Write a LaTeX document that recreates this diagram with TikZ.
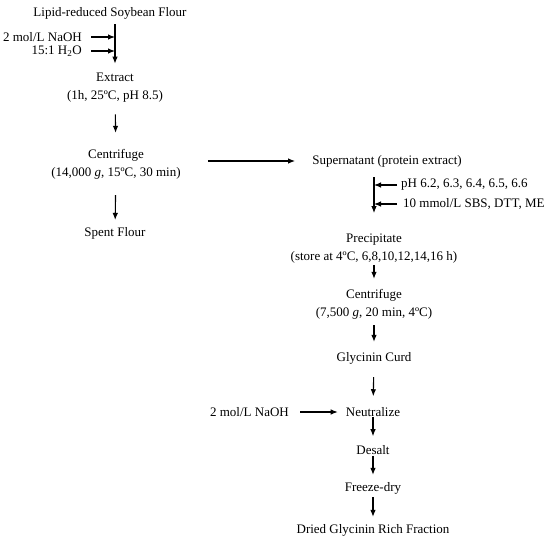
\documentclass[tikz,border=0pt]{standalone}
\usepackage{fontspec}
\setmainfont{Liberation Serif}
\usetikzlibrary{arrows.meta}
\tikzstyle{txt} = [inner sep=0pt, align=center]
\tikzstyle{arrow} = [->,>={Latex[length=7pt,width=5.5pt]}, line width=1.1pt]

\begin{document}
\begin{tikzpicture}[x=1pt, y=-1pt, font=\fontsize{13}{18}\selectfont]
    \useasboundingbox (0,0) rectangle (550,542);
    % left column
    \node (flour)   [txt] at (110,13)  {Lipid-reduced Soybean Flour};
    \node (naoh)    [txt, anchor=east] at (82,37) {2 mol/L NaOH};
    \node (water)   [txt, anchor=east] at (82,51) {15:1 H\textsubscript{2}O};
    \node (extract) [txt] at (115,87.5)
      {Extract \\ (1h, 25ºC, pH 8.5)};
    \node (spin)    [txt] at (116,164)
      {Centrifuge \\ (14,000 \textit{g}, 15ºC, 30 min)};
    \node (spent)   [txt] at (115,233) {Spent Flour};
    % right column
    \node (super)   [txt] at (387,161) {Supernatant (protein extract)};
    \node (ph)      [txt, anchor=west] at (401,185) {pH 6.2, 6.3, 6.4, 6.5, 6.6};
    \node (sbs)     [txt, anchor=west] at (403,204) {10 mmol/L SBS, DTT, ME};
    \node (precip)  [txt] at (374,249)
      {Precipitate \\ (store at 4ºC, 6,8,10,12,14,16 h)};
    \node (spintwo) [txt] at (374,304)
      {Centrifuge \\ (7,500 \textit{g}, 20 min, 4ºC)};
    \node (curd)    [txt] at (374,358) {Glycinin Curd};
    \node (neutral) [txt] at (373,412) {Neutralize};
    \node (naohtwo) [txt, anchor=east] at (289,412) {2 mol/L NaOH};
    \node (desalt)  [txt] at (373,450) {Desalt};
    \node (freeze)  [txt] at (373,488) {Freeze-dry};
    \node (dried)   [txt] at (373,530) {Dried Glycinin Rich Fraction};

    \draw [arrow, shorten <=5pt, shorten >=9pt]
      (flour.south -| extract.north) -- (extract.north);
    \draw [arrow, shorten <=9pt] (naoh.east)  -- (naoh.east -| extract.north);
    \draw [arrow, shorten <=9pt] (water.east) -- (water.east -| extract.north);
    \draw [arrow, shorten <=12pt, shorten >=16pt] (extract) -- (spin);
    \draw [arrow, shorten <=16pt, shorten >=7pt]  (spin)    -- (spent);
    \draw [arrow, shorten <=27pt, shorten >=17pt] (spin.east |- super) -- (super.west);

    \draw [arrow, shorten <=10pt, shorten >=21pt]
      (super.south -| precip.north) -- (precip.north);
    \draw [arrow, shorten <=4pt] (ph.west)  -- (ph.west -| precip.north);
    \draw [arrow, shorten <=6pt] (sbs.west) -- (sbs.west -| precip.north);
    \draw [arrow, shorten <=1pt, shorten >=10pt]  (precip)  -- (spintwo);
    \draw [arrow, shorten <=6pt, shorten >=10pt]  (spintwo) -- (curd);
    \draw [arrow, shorten <=13pt, shorten >=11pt] (curd)    -- (neutral);
    \draw [arrow, shorten <=11pt, shorten >=8pt]  (naohtwo) -- (neutral);
    \draw [arrow, shorten >=9pt]                  (neutral) -- (desalt);
    \draw [arrow, shorten <=1pt, shorten >=7pt]   (desalt)  -- (freeze);
    \draw [arrow, shorten <=3pt, shorten >=7pt]   (freeze)  -- (dried);
\end{tikzpicture}
\end{document}
